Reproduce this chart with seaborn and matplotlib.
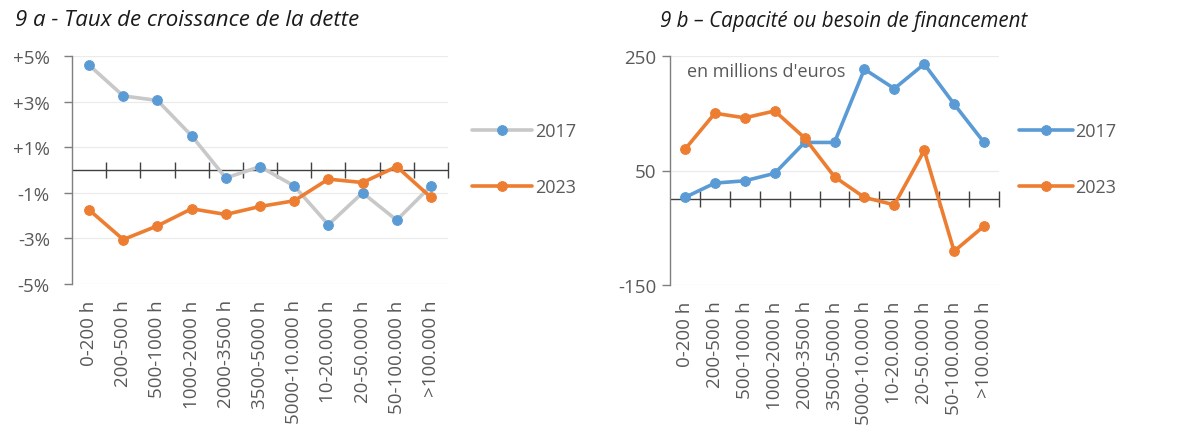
import matplotlib
matplotlib.use("Agg")
import matplotlib.pyplot as plt
import seaborn as sns
import pandas as pd

# categories (heures d'utilisation)
categories = ["0-200 h", "200-500 h", "500-1000 h", "1000-2000 h", "2000-3500 h",
              "3500-5000 h", "5000-10.000 h", "10-20.000 h", "20-50.000 h",
              "50-100.000 h", ">100.000 h"]

# 9a - taux de croissance de la dette (%)
dette_2017 = [4.6, 3.25, 3.05, 1.5, -0.35, 0.15, -0.7, -2.4, -1.0, -2.2, -0.7]
dette_2023 = [-1.75, -3.05, -2.45, -1.7, -1.95, -1.6, -1.35, -0.4, -0.55, 0.15, -1.2]

# 9b - capacite / besoin de financement (millions d'euros)
fin_2017 = [3, 28, 32, 45, 99, 99, 227, 193, 236, 166, 99]
fin_2023 = [87, 150, 142, 154, 107, 39, 3, -10, 85, -91, -47]

pct_ticks = [5, 3, 1, -1, -3, -5]
pct_labels = ["+5%", "+3%", "+1%", "-1%", "-3%", "-5%"]
fin_ticks = [250, 50, -150]

BLUE = "#5B9BD5"
ORANGE = "#ED7D31"
LIGHT = "#C8C8C8"
GREY_TXT = "#595959"

sns.set_style("white")
plt.rcParams["font.family"] = ["Open Sans", "DejaVu Sans"]

fig = plt.figure(figsize=(11.87, 4.39), dpi=100)
ax1 = fig.add_axes([72 / 1187, 1 - 285 / 439, 376 / 1187, 228 / 439])
ax2 = fig.add_axes([670 / 1187, 1 - 286 / 439, 329 / 1187, 229 / 439])


def style_axis(ax, ticks, labels, ylim, pad):
    ax.set_ylim(*ylim)
    ax.set_xlim(-0.5, len(categories) - 0.5)
    ax.set_yticks(ticks)
    ax.set_yticklabels(labels)
    for t in ticks:
        ax.axhline(t, color="#EBEBEB", lw=0.9, zorder=0)
    for s in ["top", "right", "bottom"]:
        ax.spines[s].set_visible(False)
    ax.spines["left"].set_color("#7F7F7F")
    ax.spines["left"].set_linewidth(1.0)
    ax.tick_params(axis="y", left=True, length=6, width=1, color="#7F7F7F",
                   pad=pad, labelsize=13.5, labelcolor=GREY_TXT)
    ax.set_xticks(range(len(categories)))
    ax.set_xticklabels(categories, rotation=90, va="top", ha="center")
    ax.tick_params(axis="x", bottom=False, length=0, pad=11,
                   labelsize=13.5, labelcolor=GREY_TXT)
    # zero line with crossing tick marks between categories
    ax.axhline(0, color="#404040", lw=1.0, zorder=1)
    bounds = [i + 0.5 for i in range(len(categories))]
    ax.plot(bounds, [0] * len(bounds), ls="none", marker="|", ms=12,
            mew=1.0, color="#404040", zorder=1, clip_on=False)
    ax.set_xlabel("")
    ax.set_ylabel("")


# ---- 9a
sns.lineplot(x=categories, y=dette_2017, ax=ax1, color=LIGHT, lw=2.6,
             marker="o", ms=7, mfc=BLUE, mec=BLUE, label="2017", sort=False, zorder=3)
sns.lineplot(x=categories, y=dette_2023, ax=ax1, color=ORANGE, lw=2.6,
             marker="o", ms=7, mfc=ORANGE, mec=ORANGE, label="2023", sort=False, zorder=4)
style_axis(ax1, pct_ticks, pct_labels, (-5, 5), 10)
ax1.legend(loc="center left", bbox_to_anchor=(456 / 1187, 1 - 160 / 439),
           bbox_transform=fig.transFigure, frameon=False, fontsize=13,
           labelcolor=GREY_TXT, handlelength=3.3, handletextpad=0.2,
           labelspacing=2.1)

# ---- 9b
sns.lineplot(x=categories, y=fin_2017, ax=ax2, color=BLUE, lw=2.6,
             marker="o", ms=7, mfc=BLUE, mec=BLUE, label="2017", sort=False, zorder=3)
sns.lineplot(x=categories, y=fin_2023, ax=ax2, color=ORANGE, lw=2.6,
             marker="o", ms=7, mfc=ORANGE, mec=ORANGE, label="2023", sort=False, zorder=4)
style_axis(ax2, fin_ticks, [str(t) for t in fin_ticks], (-150, 250), 4)
ax2.legend(loc="center left", bbox_to_anchor=(1003 / 1187, 1 - 160 / 439),
           bbox_transform=fig.transFigure, frameon=False, fontsize=13,
           labelcolor=GREY_TXT, handlelength=3.0, handletextpad=0.1,
           labelspacing=2.1)
ax2.text(687 / 1187, 1 - 72 / 439, "en millions d'euros", transform=fig.transFigure,
         fontsize=13, color=GREY_TXT, va="center", ha="left")

# titles
fig.text(15 / 1187, 1 - 21 / 439, "9 a - Taux de croissance de la dette",
         fontsize=16, style="italic", color="#1A1A1A", va="center", ha="left")
fig.text(660 / 1187, 1 - 21 / 439, "9 b \u2013 Capacité ou besoin de financement",
         fontsize=14.8, style="italic", color="#1A1A1A", va="center", ha="left")

fig.savefig("out.png", dpi=100, facecolor="white")
